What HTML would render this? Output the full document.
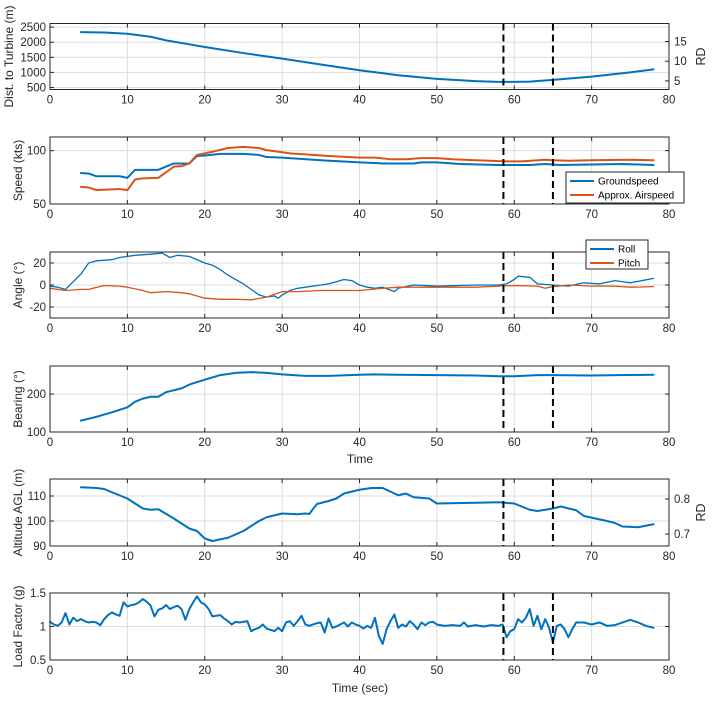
<!DOCTYPE html>
<html><head><meta charset="utf-8">
<style>
html,body{margin:0;padding:0;background:#fff;}
svg{display:block;font-family:"Liberation Sans",Arial,sans-serif;}
</style></head>
<body>
<svg id="fig" width="712" height="701" viewBox="0 0 712 701" xmlns="http://www.w3.org/2000/svg"></svg>
<script>
// ---------- data ----------
const distT = [4,7,10,13,15,18,20,25,30,35,40,45,50,55,58,60,62,65,70,75,78];
const distV = [2335,2320,2280,2180,2060,1930,1840,1640,1455,1260,1070,905,785,710,687,687,695,750,860,1000,1100];

const gsT = [4,5,6,9,10,11,14,16,18,19,20,22,25,27,28,30,35,40,43,47,48,50,53,58,62,64,66,70,74,78];
const gsV = [79,78.5,76,76,74.5,82,82,88,88,95,95.5,97,97,96,94,93.5,91,89,88,88,89,89,87.5,86.5,86.5,87.5,86.5,87,87.5,86.5];
const asT = [4,5,6,9,10,11,12,14,16,17,18,19,21,23,25,27,28,30,31,33,36,40,42,44,46,48,50,52,55,59,61,64,65,67,70,75,78];
const asV = [66,65.5,63,64,63,73,74,74.5,85,85.5,88,96,99,102.5,103.5,102.5,100.5,98.5,97.5,96.5,95,93.5,93.5,92,92,93,93,92,91,90,90,91.5,91,90.5,91,91.5,91];

const rollT = [0,1,2,3,4,5,6,8,9,11,13,14.5,15.5,16.5,18,20,21,22,23,24,25,26,27,28,29,29.5,30,31,32,34,36,37,38,39,40,41,42,43,44.5,45,47,50,55,58,59,60,60.5,62,63,65,67,69,71,73,75,78];
const rollV = [-1,-2,-4,3,10,20,22,23,25,27,28,29,25,27,26,20,18,14,9,5,1,-4,-9,-11,-10,-12,-9,-5,-3,-1,1,3,5,4,0,-2,-3,-2,-6,-3,0,-1,0,0,1,5,8,7,1,0,-1,2,1,4,2,6];
const pitchT = [0,2,4,5,7,9,10,12,13,15,17,18,20,22,24,26,28,30,32,35,40,43,45,50,55,58,60,63,64,65,67,70,73,75,78];
const pitchV = [-3,-5,-4,-4,-0.5,-1,-2,-5,-7,-6,-7,-8,-12,-13,-13,-13.5,-11,-6,-6,-5,-5,-3,-2,-2,-2,-1,-0.5,-1,-3,-1.5,0,-1,-1,-2,-1.5];

const brgT = [4,6,8,10,11,12,13,14,15,17,18,20,22,24,26,28,30,33,36,40,42,45,50,55,58,60,63,65,70,78];
const brgV = [130,140,152,165,180,188,193,193,205,215,225,238,250,256,258,256,252,248,248,251,252,251,250,249,247,247,250,250,249,251];

const altT = [4,6,7,8,10,11,12,13,14,16,18,19,20,21,23,25,27,28,30,32,33,33.5,34.5,36,37,38,40,41.5,43,45,46,47,49,50,55,58,60,62,63,65,66,68,69,72,73,74,76,78];
const altV = [113.5,113.2,112.8,111.5,109,107,105,104.5,104.7,101,97,96,93,92,93.3,96,100,101.5,103,102.7,103,102.8,106.8,108,109,111,112.5,113.2,113.2,110.3,111,109.5,109,107,107.3,107.5,107,104.5,104,105,105.8,104.3,102,100,99.2,97.8,97.5,98.7];

const lfT = [0,0.5,1,1.5,2,2.5,3,3.5,4,4.5,5,5.5,6,6.5,7,7.5,8,8.5,9,9.5,10,10.5,11,11.5,12,12.5,13,13.5,14,14.5,15,15.5,16,16.5,17,17.5,18,18.5,19,19.5,20,20.5,21,21.5,22,22.5,23,23.5,24,24.5,25,25.5,26,26.5,27,27.5,28,28.5,29,29.5,30,30.5,31,31.5,32,32.5,33,33.5,34,34.5,35,35.5,36,36.5,37,37.5,38,38.5,39,39.5,40,40.5,41,41.5,42,42.5,43,43.5,44,44.5,45,45.5,46,46.5,47,47.5,48,48.5,49,49.5,50,51,52,53,53.5,54,55,56,57,58,58.5,59,59.5,60,60.5,61,61.5,62,62.5,63,63.5,64,64.5,65,65.5,66,66.5,67,67.5,68,69,70,71,72,73,74,75,76,77,78];
const lfV = [1.07,1.03,1.01,1.06,1.2,1.03,1.13,1.08,1.11,1.08,1.06,1.07,1.06,1.02,1.11,1.17,1.21,1.18,1.16,1.36,1.3,1.32,1.33,1.36,1.41,1.37,1.31,1.15,1.25,1.27,1.32,1.26,1.29,1.31,1.26,1.1,1.26,1.36,1.45,1.36,1.33,1.26,1.15,1.16,1.17,1.12,1.08,1.03,1.07,1.06,1.07,1.08,0.93,0.96,0.98,1.03,0.97,0.95,0.93,0.98,0.93,1.06,1.08,1.01,1.08,1.16,1.03,1.01,1.03,1.05,1.06,0.91,1.12,0.98,1.0,1.03,1.06,1.0,1.06,1.03,1.01,0.97,1.01,0.98,1.13,0.86,0.74,0.96,1.08,1.18,0.98,1.03,1.0,1.08,1.03,0.96,1.06,1.02,1.06,1.07,1.03,1.01,1.02,1.01,1.06,1.0,1.02,1.0,1.02,1.01,1.03,0.84,0.93,0.96,1.11,1.06,1.13,1.26,1.01,1.16,0.96,1.11,0.98,0.76,1.01,1.03,0.96,0.84,0.96,1.06,1.06,1.03,1.06,1.01,1.02,1.06,1.1,1.06,1.01,0.98];

const xTicks = [0,10,20,30,40,50,60,70,80];
const eventTimes = [58.6, 65];

// ---------- helpers ----------
const svg = document.getElementById('fig');
const NS = 'http://www.w3.org/2000/svg';
const X0 = 50, X1 = 669;
const BLUE = '#0072BD', ORANGE = '#D95319';
function el(tag, attrs, parent){
  const e = document.createElementNS(NS, tag);
  for (const k in attrs) e.setAttribute(k, attrs[k]);
  (parent||svg).appendChild(e);
  return e;
}
function xs(t){ return X0 + (t - 0) / 80 * (X1 - X0); }

function panel(name, top, h, ymin, ymax, yTicks, opts){
  const g = el('g', {});
  
  
  const bot = top + h;
  const ys = v => bot - (v - ymin) / (ymax - ymin) * h;
  // grid
  xTicks.forEach(t => { if (t > 0 && t < 80) {
    const l = el('line', {x1: xs(t), x2: xs(t), y1: top, y2: bot, stroke: '#dcdcdc', 'stroke-width': 1}, g);
    
    
  }});
  yTicks.forEach(v => {
    const y = ys(v);
    const l = el('line', {x1: X0, x2: X1, y1: y, y2: y, stroke: '#dcdcdc', 'stroke-width': 1}, g);
    
    
  });
  return {g, ys, top, bot, h, ymin, ymax, yTicks, opts: opts || {}, name};
}
function finishPanel(p){
  const g = p.g;
  // event lines
  eventTimes.forEach(t => {
    const l = el('line', {x1: xs(t), x2: xs(t), y1: p.top, y2: p.bot, stroke: '#000', 'stroke-width': 2, 'stroke-dasharray': '7,4'}, g);
    
    
  });
  // box
  const r = el('rect', {x: X0, y: p.top, width: X1 - X0, height: p.h, fill: 'none', stroke: '#262626', 'stroke-width': 1}, g);
  
  
  // x ticks
  xTicks.forEach(t => {
    el('line', {x1: xs(t), x2: xs(t), y1: p.bot, y2: p.bot - 4, stroke: '#262626'}, g);
    el('line', {x1: xs(t), x2: xs(t), y1: p.top, y2: p.top + 4, stroke: '#262626'}, g);
    const tx = el('text', {x: xs(t), y: p.bot + 14, 'font-size': 11.5, 'text-anchor': 'middle', fill: '#262626'}, g);
    
    
    tx.textContent = t;
  });
  // y ticks
  p.yTicks.forEach((v, i) => {
    const y = p.ys(v);
    el('line', {x1: X0, x2: X0 + 4, y1: y, y2: y, stroke: '#262626'}, g);
    if (!p.opts.rightTicks) el('line', {x1: X1, x2: X1 - 4, y1: y, y2: y, stroke: '#262626'}, g);
    const tx = el('text', {x: X0 - 4, y: y + 4, 'font-size': 11.5, 'text-anchor': 'end', fill: '#262626'}, g);
    
    
    tx.textContent = p.opts.yLabels ? p.opts.yLabels[i] : v;
  });
  // y label
  const cy = (p.top + p.bot) / 2;
  const yl = el('text', {x: p.opts.ylx || 18, y: cy, 'font-size': 12, 'text-anchor': 'middle', fill: '#262626', transform: `rotate(-90 ${p.opts.ylx || 18} ${cy})`}, g);
  
  
  yl.textContent = p.opts.ylabel;
  // right axis
  if (p.opts.rightTicks) {
    const rt = p.opts.rightTicks, rmin = p.opts.rmin, rmax = p.opts.rmax;
    rt.forEach(v => {
      const y = p.bot - (v - rmin) / (rmax - rmin) * p.h;
      el('line', {x1: X1, x2: X1 - 4, y1: y, y2: y, stroke: '#262626'}, g);
      const tx = el('text', {x: X1 + 5, y: y + 4, 'font-size': 11.5, fill: '#262626'}, g);
      
      
      tx.textContent = p.opts.rightLabels ? p.opts.rightLabels[rt.indexOf(v)] : v;
    });
    const rl = el('text', {x: 705, y: cy, 'font-size': 12.5, 'text-anchor': 'middle', fill: '#262626', transform: `rotate(-90 705 ${cy})`}, g);
    
    
    rl.textContent = 'RD';
  }
}
function series(p, T, V, color, name, w){
  const pts = T.map((t, i) => xs(t).toFixed(2) + ',' + p.ys(V[i]).toFixed(2)).join(' ');
  const pl = el('polyline', {points: pts, fill: 'none', stroke: color, 'stroke-width': w || 2, 'stroke-linejoin': 'round', 'stroke-linecap': 'round'}, p.g);
  
  
}
function legend(x, y, w, h, items, name){
  const g = el('g', {});
  
  
  el('rect', {x, y, width: w, height: h, fill: '#fff', stroke: '#262626', 'stroke-width': 1}, g);
  items.forEach((it, i) => {
    const yy = y + 9 + i * 14;
    const l = el('line', {x1: x + 4, x2: x + 28, y1: yy, y2: yy, stroke: it[1], 'stroke-width': 2}, g);
    
    
    const t = el('text', {x: x + 32, y: yy + 3.5, 'font-size': 10, fill: '#000'}, g);
    
    
    t.textContent = it[0];
  });
}

// ---------- panels ----------
const p1 = panel('distance-panel', 23.5, 66, 433, 2620, [500,1000,1500,2000,2500],
  {ylabel: 'Dist. to Turbine (m)', ylx: 13, rightTicks: [5,10,15], rmin: 2.8, rmax: 19.6});
series(p1, distT, distV, BLUE, 'distance-line');
finishPanel(p1);

const p2 = panel('speed-panel', 137, 67, 50, 112.8, [50,100], {ylabel: 'Speed (kts)', ylx: 22});
series(p2, gsT, gsV, BLUE, 'groundspeed-line');
series(p2, asT, asV, ORANGE, 'airspeed-line');
finishPanel(p2);
legend(566, 172, 118, 31, [['Groundspeed', BLUE], ['Approx. Airspeed', ORANGE]], 'speed-legend');

const p3 = panel('angle-panel', 252, 66, -30, 30, [-20,0,20], {ylabel: 'Angle (\u00B0)', ylx: 22});
series(p3, rollT, rollV, BLUE, 'roll-line', 1.3);
series(p3, pitchT, pitchV, ORANGE, 'pitch-line', 1.3);
finishPanel(p3);
legend(586, 240, 62, 29, [['Roll', BLUE], ['Pitch', ORANGE]], 'angle-legend');

const p4 = panel('bearing-panel', 366, 66, 100, 274, [100,200], {ylabel: 'Bearing (\u00B0)', ylx: 22});
series(p4, brgT, brgV, BLUE, 'bearing-line');
finishPanel(p4);
const t4 = el('text', {x: 360, y: 463, 'font-size': 12, 'text-anchor': 'middle', fill: '#262626'});


t4.textContent = 'Time';

const p5 = panel('altitude-panel', 479, 67, 90, 116.8, [90,100,110],
  {ylabel: 'Altitude AGL (m)', ylx: 22, rightTicks: [0.7,0.8], rmin: 0.666, rmax: 0.857});
series(p5, altT, altV, BLUE, 'altitude-line');
finishPanel(p5);

const p6 = panel('load-factor-panel', 593, 67, 0.5, 1.5, [0.5,1,1.5], {ylabel: 'Load Factor (g)', ylx: 22, yLabels: ['0.5','1','1.5']});
series(p6, lfT, lfV, BLUE, 'load-factor-line', 2);
finishPanel(p6);
const t6 = el('text', {x: 360, y: 692, 'font-size': 12, 'text-anchor': 'middle', fill: '#262626'});


t6.textContent = 'Time (sec)';
</script>
</body></html>
